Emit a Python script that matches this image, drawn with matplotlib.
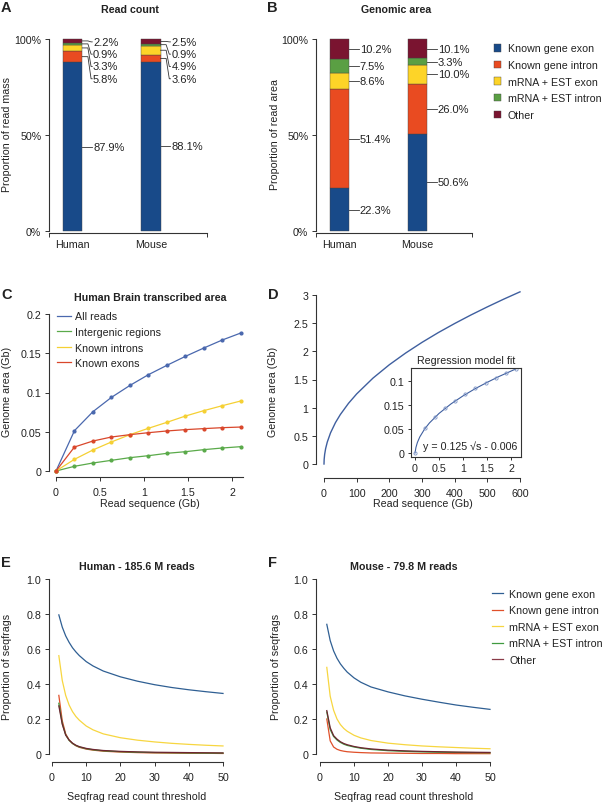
import matplotlib.pyplot as plt
from matplotlib.patches import Patch
from matplotlib.lines import Line2D

# ---------------- data ----------------
species = ['Human', 'Mouse']
categories = ['Known gene exon', 'Known gene intron', 'mRNA + EST exon', 'mRNA + EST intron', 'Other']
bar_colors = ['#184a89', '#e94b21', '#fdd428', '#5a9f43', '#7a1430']

read_count_human = [87.9, 5.8, 3.3, 0.9, 2.2]
read_count_mouse = [88.1, 3.6, 4.9, 0.9, 2.5]
area_human = [22.3, 51.4, 8.6, 7.5, 10.2]
area_mouse = [50.6, 26.0, 10.0, 3.3, 10.1]

# panel C: transcribed area vs read sequence
read_gb = [0, 0.21, 0.42, 0.63, 0.84, 1.05, 1.26, 1.47, 1.68, 1.89, 2.1]
all_reads = [0, 0.0514, 0.0756, 0.0938, 0.109, 0.1227, 0.1346, 0.146, 0.1567, 0.1669, 0.1758]
intergenic = [0, 0.006, 0.0102, 0.0136, 0.017, 0.0195, 0.0225, 0.0246, 0.0272, 0.0293, 0.031]
known_introns = [0, 0.0149, 0.0268, 0.037, 0.0463, 0.0544, 0.062, 0.070, 0.0769, 0.0832, 0.0892]
known_exons = [0, 0.0306, 0.0382, 0.0433, 0.0463, 0.0488, 0.051, 0.0527, 0.054, 0.0552, 0.056]

# panel D: extrapolated curve
extra_seq = [0, 0.5, 2, 5, 10, 20, 35, 50, 75, 100, 150, 200, 250, 300, 350, 400, 450, 500, 550, 600]
extra_area = [0, 0.082, 0.171, 0.274, 0.389, 0.553, 0.734, 0.878, 1.077, 1.244, 1.525, 1.762,
              1.970, 2.159, 2.333, 2.494, 2.646, 2.789, 2.926, 3.056]
fit_seq = [0, 0.02, 0.05, 0.1, 0.2, 0.3, 0.5, 0.75, 1, 1.25, 1.5, 1.75, 2.1]
fit_area = [0.0, 0.0117, 0.022, 0.0335, 0.0499, 0.0625, 0.0824, 0.1023, 0.119, 0.1338, 0.147, 0.1594, 0.1751]

# panels E/F: proportion of seqfrags vs read count threshold
threshold = [2, 3, 4, 5, 6, 7, 8, 10, 12, 15, 20, 25, 30, 35, 40, 45, 50]
human_frag = {
    'Known gene exon': [0.795, 0.725, 0.675, 0.638, 0.607, 0.583, 0.562, 0.528, 0.503, 0.474, 0.441, 0.416, 0.396, 0.380, 0.367, 0.356, 0.346],
    'Known gene intron': [0.335, 0.19, 0.115, 0.08, 0.06, 0.047, 0.038, 0.028, 0.022, 0.016, 0.011, 0.008, 0.006, 0.005, 0.004, 0.004, 0.003],
    'mRNA + EST exon': [0.562, 0.42, 0.335, 0.28, 0.242, 0.214, 0.193, 0.16, 0.138, 0.115, 0.093, 0.079, 0.069, 0.061, 0.055, 0.05, 0.046],
    'mRNA + EST intron': [0.29, 0.175, 0.11, 0.078, 0.06, 0.048, 0.04, 0.03, 0.024, 0.018, 0.013, 0.01, 0.008, 0.007, 0.006, 0.005, 0.005],
    'Other': [0.275, 0.17, 0.108, 0.08, 0.062, 0.05, 0.042, 0.032, 0.026, 0.02, 0.015, 0.012, 0.01, 0.009, 0.008, 0.007, 0.006],
}
mouse_frag = {
    'Known gene exon': [0.741, 0.648, 0.589, 0.547, 0.515, 0.49, 0.468, 0.435, 0.41, 0.383, 0.355, 0.332, 0.313, 0.296, 0.28, 0.267, 0.255],
    'Known gene intron': [0.2, 0.075, 0.04, 0.027, 0.02, 0.016, 0.013, 0.01, 0.008, 0.006, 0.005, 0.004, 0.003, 0.003, 0.002, 0.002, 0.002],
    'mRNA + EST exon': [0.495, 0.33, 0.25, 0.2, 0.168, 0.146, 0.13, 0.107, 0.092, 0.077, 0.062, 0.053, 0.046, 0.041, 0.037, 0.033, 0.03],
    'mRNA + EST intron': [0.24, 0.14, 0.1, 0.08, 0.066, 0.056, 0.049, 0.04, 0.033, 0.026, 0.019, 0.015, 0.012, 0.01, 0.009, 0.008, 0.007],
    'Other': [0.248, 0.15, 0.105, 0.085, 0.07, 0.06, 0.053, 0.043, 0.036, 0.029, 0.022, 0.018, 0.015, 0.013, 0.011, 0.01, 0.009],
}
line_colors = ['#2f5f93', '#e0502a', '#f7d640', '#3f9a3f', '#6e2430']
legend_line_colors = ['#2f5f93', '#e0502a', '#f7d640', '#3f9a3f', '#8a3b48']

# ---------------- layout helpers ----------------
plt.rcParams['font.family'] = ['Liberation Sans', 'DejaVu Sans']
plt.rcParams['font.size'] = 7.7
plt.rcParams['text.color'] = '#222222'
plt.rcParams['axes.edgecolor'] = '#333333'
plt.rcParams['xtick.color'] = '#333333'
plt.rcParams['ytick.color'] = '#333333'
plt.rcParams['xtick.labelcolor'] = '#222222'
plt.rcParams['ytick.labelcolor'] = '#222222'

W, H = 602, 803
fig = plt.figure(figsize=(W / 100, H / 100), dpi=100)


def place_axes(box, xpx, xval, ypx, yval):
    # box = (left, top, right, bottom) in pixels, xpx/xval and ypx/yval are two reference points
    left, top, right, bottom = box
    ax = fig.add_axes([left / W, 1 - bottom / H, (right - left) / W, (bottom - top) / H])
    sx = (xpx[1] - xpx[0]) / (xval[1] - xval[0])
    sy = (ypx[0] - ypx[1]) / (yval[1] - yval[0])
    ax.set_xlim(xval[0] - (xpx[0] - left) / sx, xval[0] + (right - xpx[0]) / sx)
    ax.set_ylim(yval[0] - (bottom - ypx[0]) / sy, yval[0] + (ypx[0] - top) / sy)
    return ax


def r_style(ax, xb, yb):
    for s in ['top', 'right']:
        ax.spines[s].set_visible(False)
    ax.spines['left'].set_bounds(*yb)
    ax.spines['bottom'].set_bounds(*xb)
    for s in ['left', 'bottom']:
        ax.spines[s].set_linewidth(0.8)
    ax.tick_params(direction='out', length=3, width=0.7)
    ax.tick_params(axis='y', pad=2.5)
    ax.tick_params(axis='x', pad=4.5)


def ftext(x, y, s, **kw):
    kw.setdefault('ha', 'center')
    kw.setdefault('va', 'center')
    fig.text(x / W, 1 - y / H, s, **kw)


def stacked_bars(ax, data_h, data_m, positions, width, label_pos):
    for xpos, vals, lpos in zip(positions, [data_h, data_m], label_pos):
        bottom = 0
        mids = []
        for v, c in zip(vals, bar_colors):
            ax.bar(xpos, v / 100, width, bottom=bottom, color=c, edgecolor='#444444', linewidth=0.3)
            mids.append(bottom + v / 200)
            bottom += v / 100
        x0 = xpos + width / 2
        for i, v in enumerate(vals):
            yl = mids[i] if lpos is None or lpos[i] is None else lpos[i]
            ax.plot([x0, x0 + 0.07, x0 + 0.11, x0 + 0.125], [mids[i], mids[i], yl, yl],
                    color='#333333', lw=0.6, clip_on=False)
            ax.text(x0 + 0.135, yl, f'{v:.1f}%', ha='left', va='center', fontsize=8)
    ax.set_xticks(positions, species)
    ax.tick_params(axis='x', length=0, pad=5)
    ax.set_xticks([0, 2], minor=True)
    ax.tick_params(axis='x', which='minor', length=3, width=0.7, direction='out')
    ax.set_yticks([0, 0.5, 1], ['0%', '50%', '100%'])


# ---------------- A: read count ----------------
axA = place_axes((49, 35, 207, 233.5), (49, 207), (0, 2), (232, 40), (0, 1))
r_style(axA, (0, 2), (0, 1))
small_pos = [None, 0.793, 0.857, 0.921, 0.985]
stacked_bars(axA, read_count_human, read_count_mouse, [0.3, 1.29], 0.245, [small_pos, small_pos])

# ---------------- B: genomic area ----------------
axB = place_axes((316, 35, 472, 233.5), (316, 472), (0, 2), (232, 40), (0, 1))
r_style(axB, (0, 2), (0, 1))
stacked_bars(axB, area_human, area_mouse, [0.3, 1.3], 0.25, [None, None])
handles = [Patch(facecolor=c, edgecolor='#444444', linewidth=0.3) for c in bar_colors]
fig.legend(handles, categories, loc='upper left', bbox_to_anchor=(494 / W, 1 - 44.5 / H),
           frameon=False, handlelength=0.7, handleheight=0.7, handletextpad=0.6,
           labelspacing=0.62, borderpad=0, borderaxespad=0, fontsize=7.7)

# ---------------- C: transcribed area ----------------
axC = place_axes((49, 310, 245, 478), (56, 232), (0, 2), (472, 315), (0, 0.2))
r_style(axC, (0, 2.12), (0, 0.2))
series_c = [('All reads', all_reads, '#4a68ae'), ('Intergenic regions', intergenic, '#5aaa4a'),
            ('Known introns', known_introns, '#f5d033'), ('Known exons', known_exons, '#d9472b')]
for name, vals, col in series_c:
    axC.plot(read_gb, vals, color=col, lw=0.9, marker='o', markersize=2, label=name)
axC.set_xticks([0, 0.5, 1, 1.5, 2], ['0', '0.5', '1', '1.5', '2'])
axC.set_yticks([0, 0.05, 0.1, 0.15, 0.2], ['0', '0.05', '0.1', '0.15', '0.2'])
c_handles = [Line2D([], [], color=col, lw=0.9) for _, _, col in series_c]
axC.legend(c_handles, [n for n, _, _ in series_c], loc='upper left',
           bbox_to_anchor=(57 / W, 1 - 312.5 / H), bbox_transform=fig.transFigure,
           frameon=False, handlelength=1.3, handletextpad=0.35, labelspacing=0.52,
           borderpad=0, borderaxespad=0, fontsize=7.7)

# ---------------- D: extrapolation ----------------
axD = place_axes((316, 290, 530, 479), (324, 520), (0, 600), (465, 296), (0, 3))
r_style(axD, (0, 600), (0, 3))
axD.plot(extra_seq, extra_area, color='#3f5f9f', lw=1.0)
axD.set_xticks(range(0, 601, 100))
axD.set_yticks([0, 0.5, 1, 1.5, 2, 2.5, 3], ['0', '0.5', '1', '1.5', '2', '2.5', '3'])

axI = place_axes((411, 369, 521, 458), (415, 511), (0, 2), (454, 430), (0, 0.05))
for s in axI.spines.values():
    s.set_linewidth(0.8)
axI.plot(fit_seq, fit_area, color='#3f5f9f', lw=0.8)
axI.plot(read_gb, all_reads, 'o', mfc='none', mec='#7f95c6', mew=0.6, markersize=2.3)
axI.set_xticks([0, 0.5, 1, 1.5, 2], ['0', '0.5', '1', '1.5', '2'])
# tick labels as printed in the original inset
axI.set_yticks([0, 0.05, 0.1, 0.15], ['0', '0.05', '0.15', '0.1'])
axI.tick_params(direction='out', length=2.5, width=0.7, pad=2)
axI.text(1.15, 0.015, 'y = 0.125 \u221as - 0.006', ha='center', va='center', fontsize=7.7)
ftext(466, 361, 'Regression model fit', fontsize=7.7)

# ---------------- E / F: seqfrags ----------------
for data, box, x0px, x50px in [(human_frag, (49, 575, 226, 763), 52, 223),
                               (mouse_frag, (316, 575, 493, 763), 320, 490)]:
    ax = place_axes(box, (x0px, x50px), (0, 50), (755, 580), (0, 1))
    r_style(ax, (0, 50), (0, 1))
    for name, col in zip(categories, line_colors):
        ax.plot(threshold, data[name], color=col, lw=0.9)
    ax.set_xticks(range(0, 51, 10))
    ax.set_yticks([0, 0.2, 0.4, 0.6, 0.8, 1.0], ['0', '0.2', '0.4', '0.6', '0.8', '1.0'])

ef_handles = [Line2D([], [], color=c, lw=0.9) for c in legend_line_colors]
fig.legend(ef_handles, categories, loc='upper left', bbox_to_anchor=(492 / W, 1 - 590 / H),
           frameon=False, handlelength=1.05, handletextpad=0.55, labelspacing=0.6,
           borderpad=0, borderaxespad=0, fontsize=7.7)

# ---------------- titles, axis labels, panel letters ----------------
bold = dict(fontweight='bold', fontsize=7.7)
ftext(130, 10, 'Read count', **bold)
ftext(396, 10, 'Genomic area', **bold)
ftext(150, 298, 'Human Brain transcribed area', **bold)
ftext(137, 567, 'Human - 185.6 M reads', **bold)
ftext(404, 567, 'Mouse - 79.8 M reads', **bold)

ftext(7, 135, 'Proportion of read mass', rotation=90)
ftext(275, 135, 'Proportion of read area', rotation=90)
ftext(7, 392, 'Genome area (Gb)', rotation=90)
ftext(273, 392, 'Genome area (Gb)', rotation=90)
ftext(7, 667, 'Proportion of seqfrags', rotation=90)
ftext(276, 667, 'Proportion of seqfrags', rotation=90)
ftext(150, 504, 'Read sequence (Gb)')
ftext(423, 504, 'Read sequence (Gb)')
ftext(137, 797, 'Seqfrag read count threshold')
ftext(404, 797, 'Seqfrag read count threshold')

for letter, x, y in [('A', 1, 8), ('B', 267, 8), ('C', 1, 295), ('D', 268, 295), ('E', 1, 563), ('F', 268, 563)]:
    ftext(x, y, letter, ha='left', fontweight='bold', fontsize=10.5)

fig.savefig('out.png', dpi=100)
